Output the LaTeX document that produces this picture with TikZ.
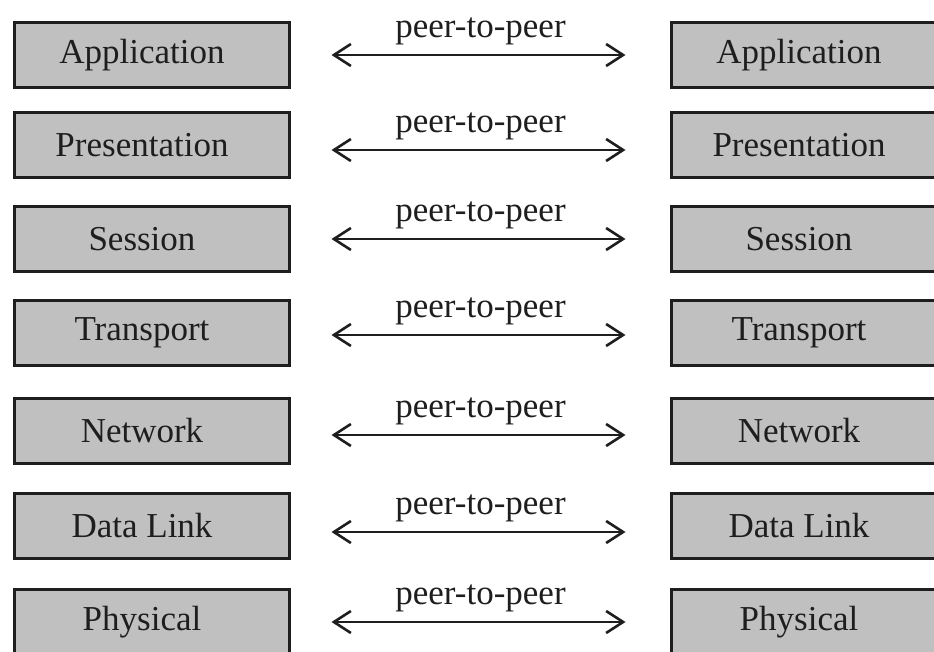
\documentclass[tikz,border=0pt]{standalone}
\usepackage{fontspec}
\setmainfont{Liberation Serif}
\usetikzlibrary{arrows.meta}
\definecolor{layergray}{RGB}{192,192,192}
\definecolor{inkgray}{RGB}{30,30,30}

\begin{document}
\begin{tikzpicture}[x=1pt,y=-1pt,
    layer/.style={draw=inkgray, fill=layergray, line width=2.6pt,
        minimum width=275pt, minimum height=65pt, inner sep=0pt, outer sep=0pt},
    lname/.style={font=\fontsize{35}{40}\selectfont, text=inkgray, xshift=-10pt},
    peer/.style={{Straight Barb[length=17pt,width=22pt]}-{Straight Barb[length=17pt,width=22pt]},
        line width=2.6pt, draw=inkgray, shorten <=42pt, shorten >=46pt},
    ptext/.style={font=\fontsize{35}{40}\selectfont, text=inkgray, above=5pt}]
    \path[use as bounding box, clip] (0,0) rectangle (934,652);

    % left stack
    \node[layer, label={[lname]center:Application}] (l1) at (152,55) {};
    \node[layer, label={[lname]center:Presentation}] (l2) at (152,145) {};
    \node[layer, label={[lname]center:Session}] (l3) at (152,239) {};
    \node[layer, label={[lname]center:Transport}] (l4) at (152,333) {};
    \node[layer, label={[lname]center:Network}] (l5) at (152,431) {};
    \node[layer, label={[lname]center:Data Link}] (l6) at (152,526) {};
    \node[layer, label={[lname]center:Physical}] (l7) at (152,622) {};

    % right stack
    \node[layer, label={[lname]center:Application}] (r1) at (809,55) {};
    \node[layer, label={[lname]center:Presentation}] (r2) at (809,145) {};
    \node[layer, label={[lname]center:Session}] (r3) at (809,239) {};
    \node[layer, label={[lname]center:Transport}] (r4) at (809,333) {};
    \node[layer, label={[lname]center:Network}] (r5) at (809,431) {};
    \node[layer, label={[lname]center:Data Link}] (r6) at (809,526) {};
    \node[layer, label={[lname]center:Physical}] (r7) at (809,622) {};

    \draw[peer] (l1.east) -- node[ptext] (p1) {peer-to-peer} (r1.west);
    \draw[peer] ([yshift=-5pt]l2.east) -- node[ptext] (p2) {peer-to-peer} ([yshift=-5pt]r2.west);
    \draw[peer] (l3.east) -- node[ptext] (p3) {peer-to-peer} (r3.west);
    \draw[peer] ([yshift=-2pt]l4.east) -- node[ptext] (p4) {peer-to-peer} ([yshift=-2pt]r4.west);
    \draw[peer] ([yshift=-4pt]l5.east) -- node[ptext] (p5) {peer-to-peer} ([yshift=-4pt]r5.west);
    \draw[peer] ([yshift=-6pt]l6.east) -- node[ptext] (p6) {peer-to-peer} ([yshift=-6pt]r6.west);
    \draw[peer] (l7.east) -- node[ptext] (p7) {peer-to-peer} (r7.west);
\end{tikzpicture}
\end{document}
